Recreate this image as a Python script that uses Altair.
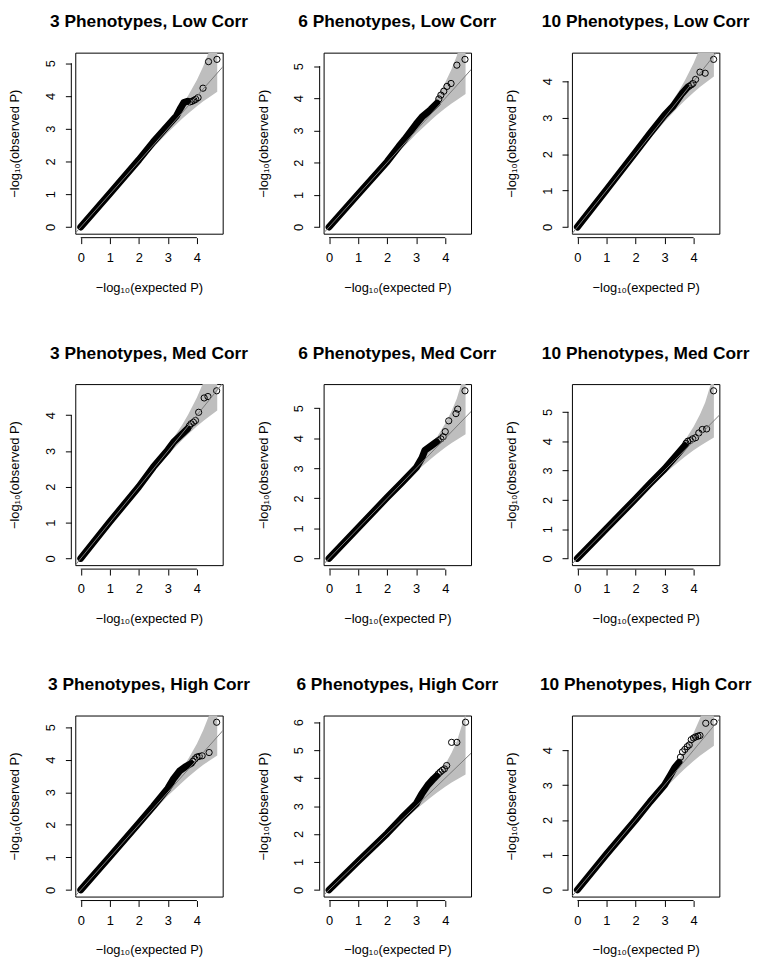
import altair as alt
import pandas as pd

FONT = "Liberation Sans"
W = 149
H = 183

titles = ["3 Phenotypes, Low Corr", "6 Phenotypes, Low Corr", "10 Phenotypes, Low Corr",
          "3 Phenotypes, Med Corr", "6 Phenotypes, Med Corr", "10 Phenotypes, Med Corr",
          "3 Phenotypes, High Corr", "6 Phenotypes, High Corr", "10 Phenotypes, High Corr"]

x_ticks = [0, 1, 2, 3, 4]

# 95% envelope, shared by all panels
band_e = [0, 2, 2.7, 3.0, 3.5, 3.7, 4.0, 4.22, 4.4, 4.7]
band_upper = [0, 2.04, 2.79, 3.13, 3.74, 4.02, 4.49, 4.91, 5.32, 6.3]
band_lower = [0, 1.96, 2.61, 2.89, 3.31, 3.47, 3.69, 3.84, 3.95, 4.13]

# Panel 1: 3 Phenotypes, Low Corr
p1_body_e = [0, 1, 2, 2.5, 3.0, 3.3, 3.45, 3.55, 3.68]
p1_body_o = [0, 1.02, 2.05, 2.6, 3.1, 3.4, 3.65, 3.8, 3.84]
p1_tail_e = [3.76, 3.83, 3.9, 3.96, 4.04, 4.21, 4.40, 4.69]
p1_tail_o = [3.82, 3.84, 3.87, 3.9, 3.95, 4.24, 5.05, 5.12]
p1_y_ticks = [0, 1, 2, 3, 4, 5]

# Panel 2: 6 Phenotypes, Low Corr
p2_body_e = [0, 1, 2, 2.4, 2.6, 3.0, 3.2, 3.5, 3.72]
p2_body_o = [0, 1.02, 2.03, 2.5, 2.72, 3.2, 3.42, 3.65, 3.85]
p2_tail_e = [3.78, 3.85, 3.95, 4.06, 4.2, 4.4, 4.68]
p2_tail_o = [3.98, 4.1, 4.22, 4.37, 4.46, 5.03, 5.21]
p2_y_ticks = [0, 1, 2, 3, 4, 5]

# Panel 3: 10 Phenotypes, Low Corr
p3_body_e = [0, 1, 2, 2.5, 3.0, 3.3, 3.6, 3.78]
p3_body_o = [0, 1.02, 2.05, 2.57, 3.07, 3.32, 3.66, 3.82]
p3_tail_e = [3.84, 3.92, 3.98, 4.07, 4.22, 4.4, 4.69]
p3_tail_o = [3.86, 3.9, 3.94, 4.05, 4.25, 4.22, 4.6]
p3_y_ticks = [0, 1, 2, 3, 4]

# Panel 4: 3 Phenotypes, Med Corr
p4_body_e = [0, 1, 2, 2.5, 3.0, 3.2, 3.5, 3.68]
p4_body_o = [0, 1.02, 2.0, 2.55, 3.03, 3.25, 3.48, 3.62]
p4_tail_e = [3.74, 3.8, 3.88, 3.95, 4.06, 4.25, 4.38, 4.68]
p4_tail_o = [3.7, 3.76, 3.8, 3.85, 4.08, 4.48, 4.52, 4.68]
p4_y_ticks = [0, 1, 2, 3, 4]

# Panel 5: 6 Phenotypes, Med Corr
p5_body_e = [0, 1, 2, 2.5, 3.0, 3.2, 3.3, 3.5, 3.7]
p5_body_o = [0, 1.02, 2.03, 2.52, 3.02, 3.35, 3.6, 3.74, 3.88]
p5_tail_e = [3.76, 3.85, 3.93, 4.0, 4.12, 4.37, 4.43, 4.68]
p5_tail_o = [3.92, 3.98, 4.05, 4.22, 4.58, 4.82, 4.97, 5.58]
p5_y_ticks = [0, 1, 2, 3, 4, 5]

# Panel 6: 10 Phenotypes, Med Corr
p6_body_e = [0, 1, 2, 2.5, 3.0, 3.5, 3.7]
p6_body_o = [0, 1.02, 2.03, 2.55, 3.05, 3.62, 3.85]
p6_tail_e = [3.74, 3.8, 3.88, 3.97, 4.07, 4.18, 4.3, 4.45, 4.69]
p6_tail_o = [3.93, 4.0, 4.02, 4.08, 4.12, 4.28, 4.4, 4.42, 5.72]
p6_y_ticks = [0, 1, 2, 3, 4, 5]

# Panel 7: 3 Phenotypes, High Corr
p7_body_e = [0, 1, 2, 2.5, 3.0, 3.2, 3.4, 3.6, 3.8]
p7_body_o = [0, 1.02, 2.05, 2.57, 3.12, 3.42, 3.65, 3.78, 3.88]
p7_tail_e = [3.86, 3.93, 4.0, 4.08, 4.18, 4.42, 4.68]
p7_tail_o = [3.95, 4.02, 4.08, 4.1, 4.12, 4.22, 5.15]
p7_y_ticks = [0, 1, 2, 3, 4, 5]

# Panel 8: 6 Phenotypes, High Corr
p8_body_e = [0, 1, 2, 2.5, 3.0, 3.2, 3.4, 3.6, 3.7]
p8_body_o = [0, 1.02, 2.02, 2.57, 3.08, 3.45, 3.75, 3.98, 4.08]
p8_tail_e = [3.76, 3.83, 3.9, 3.97, 4.05, 4.22, 4.4, 4.7]
p8_tail_o = [4.15, 4.22, 4.28, 4.33, 4.45, 5.28, 5.28, 6.0]
p8_y_ticks = [0, 1, 2, 3, 4, 5, 6]

# Panel 9: 10 Phenotypes, High Corr
p9_body_e = [0, 1, 2, 2.5, 3.0, 3.2, 3.35, 3.5]
p9_body_o = [0, 1.02, 2.0, 2.52, 3.0, 3.28, 3.5, 3.65]
p9_tail_e = [3.55, 3.62, 3.7, 3.78, 3.85, 3.92, 4.0, 4.07, 4.15, 4.22, 4.42, 4.7]
p9_tail_o = [3.8, 3.95, 4.02, 4.1, 4.15, 4.3, 4.35, 4.38, 4.4, 4.42, 4.77, 4.8]
p9_y_ticks = [0, 1, 2, 3, 4]

panels = [
    (p1_body_e, p1_body_o, p1_tail_e, p1_tail_o, p1_y_ticks),
    (p2_body_e, p2_body_o, p2_tail_e, p2_tail_o, p2_y_ticks),
    (p3_body_e, p3_body_o, p3_tail_e, p3_tail_o, p3_y_ticks),
    (p4_body_e, p4_body_o, p4_tail_e, p4_tail_o, p4_y_ticks),
    (p5_body_e, p5_body_o, p5_tail_e, p5_tail_o, p5_y_ticks),
    (p6_body_e, p6_body_o, p6_tail_e, p6_tail_o, p6_y_ticks),
    (p7_body_e, p7_body_o, p7_tail_e, p7_tail_o, p7_y_ticks),
    (p8_body_e, p8_body_o, p8_tail_e, p8_tail_o, p8_y_ticks),
    (p9_body_e, p9_body_o, p9_tail_e, p9_tail_o, p9_y_ticks),
]

band_df = pd.DataFrame({"e": band_e, "upper": band_upper, "lower": band_lower})


def panel(title, body_e, body_o, tail_e, tail_o, y_ticks):
    emax = max(band_e)
    omax = max(body_o + tail_o)
    xdom = [-0.04 * emax, 1.04 * emax]
    ydom = [-0.04 * omax, 1.04 * omax]
    xs = alt.Scale(domain=xdom, nice=False, zero=False)
    ys = alt.Scale(domain=ydom, nice=False, zero=False)

    x_axis = alt.Axis(values=x_ticks, title="\u2212log\u2081\u2080(expected P)", domain=False,
                      offset=4, tickSize=6, labelPadding=8, titlePadding=17,
                      grid=False, format="d", labelFlush=False)
    y_axis = alt.Axis(values=y_ticks, title="\u2212log\u2081\u2080(observed P)", domain=False,
                      offset=4, tickSize=6, labelAngle=270, labelAlign="center",
                      labelBaseline="bottom", labelPadding=8, titlePadding=23,
                      grid=False, format="d", labelFlush=False)

    band = alt.Chart(band_df).mark_area(color="#bebebe", clip=True).encode(
        x=alt.X("e:Q", scale=xs, axis=x_axis),
        y=alt.Y("upper:Q", scale=ys, axis=y_axis),
        y2="lower:Q",
    )

    body_df = pd.DataFrame({"e": body_e, "o": body_o})
    body = alt.Chart(body_df).mark_line(
        color="black", strokeWidth=7, strokeCap="round", strokeJoin="round"
    ).encode(
        x=alt.X("e:Q", scale=xs, axis=x_axis),
        y=alt.Y("o:Q", scale=ys, axis=y_axis),
        order="e:Q",
    )

    tail_df = pd.DataFrame({"e": tail_e, "o": tail_o})
    tail = alt.Chart(tail_df).mark_point(
        shape="circle", filled=False, color="black", size=40, strokeWidth=1, opacity=1
    ).encode(
        x=alt.X("e:Q", scale=xs, axis=x_axis),
        y=alt.Y("o:Q", scale=ys, axis=y_axis),
    )

    top = max(xdom[1], ydom[1])
    diag_df = pd.DataFrame({"e": [xdom[0], top], "o": [xdom[0], top]})
    diag = alt.Chart(diag_df).mark_line(color="#7a7a7a", strokeWidth=1, clip=True).encode(
        x=alt.X("e:Q", scale=xs, axis=x_axis),
        y=alt.Y("o:Q", scale=ys, axis=y_axis),
    )

    xline_df = pd.DataFrame({"e": [x_ticks[0]], "e1": [x_ticks[-1]]})
    xline = alt.Chart(xline_df).mark_rule(color="black", strokeWidth=1).encode(
        x=alt.X("e:Q", scale=xs, axis=x_axis),
        x2="e1:Q",
        y=alt.value(H + 4),
    )
    yline_df = pd.DataFrame({"o": [y_ticks[0]], "o1": [y_ticks[-1]]})
    yline = alt.Chart(yline_df).mark_rule(color="black", strokeWidth=1).encode(
        y=alt.Y("o:Q", scale=ys, axis=y_axis),
        y2="o1:Q",
        x=alt.value(-4),
    )

    return alt.layer(band, body, tail, diag, xline, yline).properties(
        width=W,
        height=H,
        title=alt.TitleParams(
            text=title, font=FONT, fontSize=17.5, fontWeight="bold", color="black",
            anchor="middle", frame="group", baseline="alphabetic", offset=8,
        ),
    )


charts = [panel(t, *p) for t, p in zip(titles, panels)]

chart = alt.concat(
    *charts, columns=3, spacing={"row": 152, "column": 102}, bounds="flush"
).configure_view(
    stroke="black", strokeWidth=1
).configure_axis(
    labelFont=FONT, labelFontSize=13, labelColor="black",
    titleFont=FONT, titleFontSize=13, titleFontWeight="normal", titleColor="black",
    tickColor="black", tickWidth=1,
).properties(padding=0)

chart.save("out.html", embed_options={"renderer": "svg", "actions": False})
